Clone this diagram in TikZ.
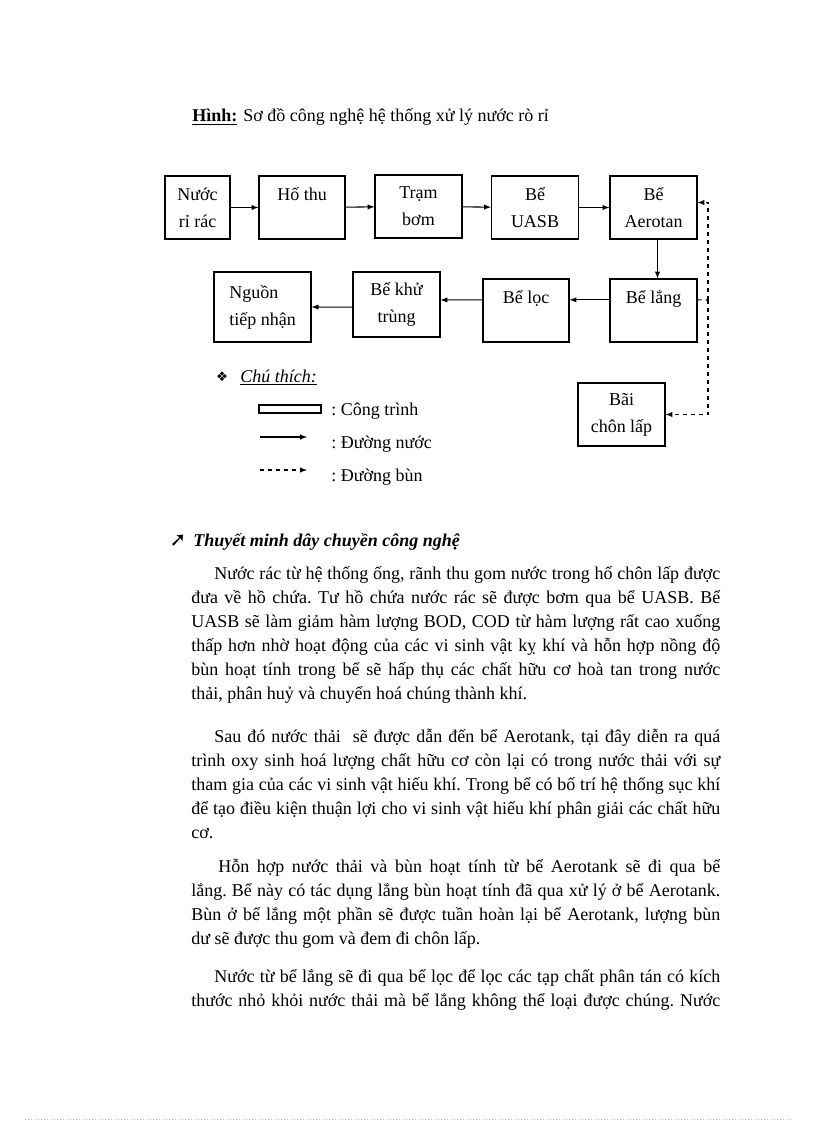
\documentclass[tikz,border=0pt]{standalone}
\usepackage{fontspec}
\setmainfont{Liberation Serif}
\newfontfamily\kyhieu{DejaVu Sans}
\frenchspacing

\tikzset{
  congtrinh/.style={draw, line width=0.8pt, align=center, inner sep=0pt,
    minimum width=65.25pt, minimum height=47.25pt,
    font=\fontsize{13.5}{20.25}\selectfont},
  duongnuoc/.style={-latex, line width=0.8pt},
  duongbun/.style={-latex, dashed, line width=0.8pt},
  dongchu/.style={anchor=base west, inner sep=0pt, font=\fontsize{13.5}{18}\selectfont},
}
\newcommand\deu[2]{\makebox[#1][s]{#2}}

\begin{document}
\begin{tikzpicture}[x=0.75pt,y=-0.75pt]
\useasboundingbox (0,0) rectangle (816,1123);

% tieu de
\node[dongchu] (hinh) at (192,122) {\textbf{\underline{Hình:}}};
\node[dongchu] (tieude) at (243,122) {Sơ đồ công nghệ hệ thống xử lý nước rò rỉ};

% cac cong trinh
\node[congtrinh, minimum width=48.75pt] (nuocri) at (197.5,207.5) {Nước\\rỉ rác};
\node[congtrinh, minimum width=64.5pt] (hothu) at (302,207.5) {Hố thu\\\mbox{}};
\node[congtrinh] (trambom) at (418.5,206.5) {Trạm\\bơm};
\node[congtrinh] (uasb) at (535,207.5) {Bể\\UASB};
\node[congtrinh] (aerotan) at (653.5,207.5) {Bể\\Aerotan};
\node[congtrinh] (lang) at (653.5,310.5) {Bể lắng\\\mbox{}};
\node[congtrinh, minimum width=64.5pt] (loc) at (526,310.5) {Bể lọc\\\mbox{}};
\node[congtrinh, minimum height=48.75pt] (khutrung) at (396.5,304.5) {Bể khử\\trùng};
\node[congtrinh, align=left, minimum width=72.75pt, minimum height=52.5pt] (nguon) at (262.5,307) {Nguồn\\tiếp nhận};
\node[congtrinh] (bai) at (621.5,414.5) {Bãi\\chôn lấp};

% duong nuoc
\draw[duongnuoc] (nuocri) -- (hothu);
\draw[duongnuoc] (hothu) -- (trambom);
\draw[duongnuoc] (trambom) -- (uasb);
\draw[duongnuoc] (uasb) -- (aerotan);
\draw[duongnuoc] ([xshift=3pt]aerotan.south) -- ([xshift=3pt]lang.north);
\draw[duongnuoc] ([yshift=8pt]lang.west) -- ([yshift=8pt]loc.east);
\draw[duongnuoc] ([yshift=8pt]loc.west) -- ([yshift=3.4pt]khutrung.east);
\draw[duongnuoc] ([yshift=-2pt]khutrung.west) -- (nguon.east);

% duong bun
\coordinate (re) at (708,300);
\draw[dashed, line width=0.8pt] ([yshift=8pt]lang.east) -- (re);
\draw[duongbun] (re) |- ([yshift=3.75pt]aerotan.east);
\draw[duongbun] (re) |- (bai.east);

% chu thich
\node[dongchu, anchor=center, font=\kyhieu\fontsize{10}{12}\selectfont] (nut) at (222,377) {❖};
\node[dongchu] (chuthich) at (240,382) {\textit{\underline{Chú thích:}}};
\draw[line width=0.8pt] (259,405) rectangle (321,413);
\node[dongchu] (ct) at (331,415) {: Công trình};
\draw[duongnuoc] (260,437) -- (307,437);
\node[dongchu] (dn) at (331,448) {: Đường nước};
\draw[duongbun] (260,470) -- (307,470);
\node[dongchu] (db) at (331,481) {: Đường bùn};

% thuyet minh
\node[dongchu, anchor=center, font=\kyhieu\bfseries\fontsize{15}{16}\selectfont] (mui) at (178,541) {➚};
\node[dongchu] (tm) at (193,546) {\textbf{\textit{Thuyết minh dây chuyền công nghệ}}};

\node[dongchu] (a1) at (214,579) {\deu{379.5pt}{Nước rác từ hệ thống ống, rãnh thu gom nước trong hố chôn lấp được}};
\node[dongchu] (a2) at (191,603) {\deu{396.75pt}{đưa về hồ chứa. Tư hồ chứa nước rác sẽ được bơm qua bể UASB. Bể}};
\node[dongchu] (a3) at (191,627) {\deu{396.75pt}{UASB sẽ làm giảm hàm lượng BOD, COD từ hàm lượng rất cao xuống}};
\node[dongchu] (a4) at (191,651) {\deu{396.75pt}{thấp hơn nhờ hoạt động của các vi sinh vật kỵ khí và hỗn hợp nồng độ}};
\node[dongchu] (a5) at (191,675) {\deu{396.75pt}{bùn hoạt tính trong bể sẽ hấp thụ các chất hữu cơ hoà tan trong nước}};
\node[dongchu] (a6) at (191,699) {thải, phân huỷ và chuyển hoá chúng thành khí.};

\node[dongchu] (b1) at (214,742) {\deu{379.5pt}{Sau đó nước thải \ sẽ được dẫn đến bể Aerotank, tại đây diễn ra quá}};
\node[dongchu] (b2) at (191,766) {\deu{396.75pt}{trình oxy sinh hoá lượng chất hữu cơ còn lại có trong nước thải với sự}};
\node[dongchu] (b3) at (191,790) {\deu{396.75pt}{tham gia của các vi sinh vật hiếu khí. Trong bể có bố trí hệ thống sục khí}};
\node[dongchu] (b4) at (191,814) {\deu{396.75pt}{để tạo điều kiện thuận lợi cho vi sinh vật hiếu khí phân giải các chất hữu}};
\node[dongchu] (b5) at (191,838) {cơ.};

\node[dongchu] (c1) at (218,872) {\deu{376.5pt}{Hỗn hợp nước thải và bùn hoạt tính từ bể Aerotank sẽ đi qua bể}};
\node[dongchu] (c2) at (191,896) {\deu{396.75pt}{lắng. Bể này có tác dụng lắng bùn hoạt tính đã qua xử lý ở bể Aerotank.}};
\node[dongchu] (c3) at (191,920) {\deu{396.75pt}{Bùn ở bể lắng một phần sẽ được tuần hoàn lại bể Aerotank, lượng bùn}};
\node[dongchu] (c4) at (191,944) {dư sẽ được thu gom và đem đi chôn lấp.};

\node[dongchu] (d1) at (214,982) {\deu{379.5pt}{Nước từ bể lắng sẽ đi qua bể lọc để lọc các tạp chất phân tán có kích}};
\node[dongchu] (d2) at (191,1006) {\deu{396.75pt}{thước nhỏ khỏi nước thải mà bể lắng không thể loại được chúng. Nước}};

% vien trang
\draw[gray!50, dotted] (25,1119) -- (792,1119);
\end{tikzpicture}
\end{document}
